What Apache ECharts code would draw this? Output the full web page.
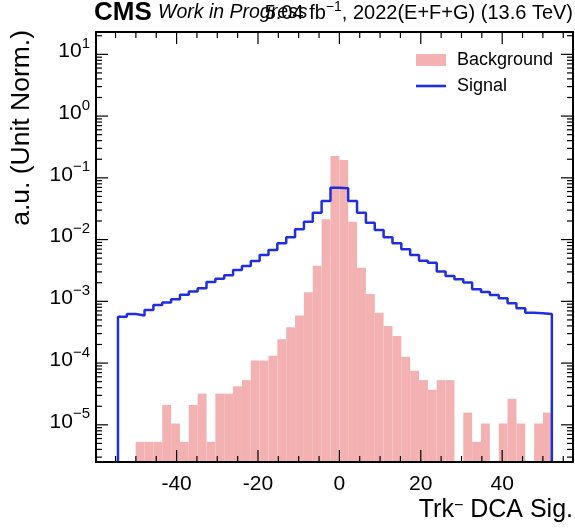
<!DOCTYPE html>
<html>
<head>
<meta charset="utf-8">
<script src="https://cdn.jsdelivr.net/npm/echarts@6/dist/echarts.min.js"></script>
<style>
  html, body { margin: 0; padding: 0; background: #fff; }
  #chart { width: 575px; height: 530px; }
</style>
</head>
<body>
<div id="chart"></div>
<script>
// binning of the Trk- DCA significance histograms
const nBins = 49;
const binLow = -54.4;
const binHigh = 52.2;

// unit-normalised bin contents
const bkgValues = [
  0, 0, 5.3e-6, 5.3e-6, 5.3e-6, 2.1e-5, 1.05e-5, 5.3e-6, 2.1e-5, 3.2e-5,
  5.3e-6, 3.2e-5, 3.2e-5, 4.2e-5, 5.3e-5, 1.1e-4, 1.1e-4, 1.31e-4, 2.44e-4, 3.81e-4,
  5.88e-4, 1.40e-3, 3.78e-3, 2.13e-2, 0.225, 0.194, 1.95e-2, 3.51e-3, 1.32e-3, 6.56e-4,
  4.0e-4, 2.75e-4, 1.27e-4, 7.5e-5, 5.3e-5, 3.7e-5, 5.3e-5, 5.3e-5, 0, 1.58e-5,
  5.3e-6, 1.05e-5, 0, 1.05e-5, 2.64e-5, 1.05e-5, 0, 1.05e-5, 1.58e-5
];
const sigValues = [
  5.65e-4, 6.25e-4, 5.88e-4, 7.26e-4, 8.75e-4, 9.53e-4, 1.08e-3, 1.28e-3, 1.44e-3, 1.63e-3,
  2.06e-3, 2.33e-3, 2.64e-3, 3.22e-3, 3.74e-3, 4.51e-3, 5.64e-3, 6.79e-3, 8.71e-3, 1.09e-2,
  1.47e-2, 1.95e-2, 2.72e-2, 4.22e-2, 6.92e-2, 6.76e-2, 4.22e-2, 2.72e-2, 1.87e-2, 1.43e-2,
  1.09e-2, 8.71e-3, 6.97e-3, 5.64e-3, 4.56e-3, 4.22e-3, 3.03e-3, 2.58e-3, 2.28e-3, 2.01e-3,
  1.57e-3, 1.42e-3, 1.27e-3, 1.12e-3, 9.31e-4, 7.73e-4, 6.56e-4, 6.41e-4, 6.25e-4
];

// axes
const xRange = [-59.8, 57.4];
const yRange = [2.5e-6, 23];
const xMajorTicks = [-40, -20, 0, 20, 40];
const xMinorTicks = [-55, -50, -45, -35, -30, -25, -15, -10, -5, 5, 10, 15, 25, 30, 35, 45, 50, 55];
const yDecades = [-5, -4, -3, -2, -1, 0, 1];

const bkgColor = '#f3b1b1';
const sigColor = '#1f2ee0';
const font = 'Liberation Sans, Helvetica, Arial, sans-serif';

const yMin = Math.log10(yRange[0]);
const yMax = Math.log10(yRange[1]);
const binW = (binHigh - binLow) / nBins;
const edges = [];
for (let i = 0; i <= nBins; i++) edges.push(binLow + i * binW);

// minor log ticks 2..9 inside every decade
const yMinorTicks = [];
for (let d = -6; d <= 1; d++) {
  for (let k = 2; k <= 9; k++) {
    const v = Math.log10(k) + d;
    if (v > yMin && v < yMax) yMinorTicks.push(v);
  }
}

const bkgData = [];
bkgValues.forEach(function (v, i) {
  if (v > 0) bkgData.push([edges[i], edges[i + 1], Math.log10(v)]);
});

// step outline: up from the floor, across every bin, back down
const sigLine = [[edges[0], yMin]];
sigValues.forEach(function (v, i) {
  sigLine.push([edges[i], Math.log10(v)]);
});
sigLine.push([edges[nBins], Math.log10(sigValues[nBins - 1])]);
sigLine.push([edges[nBins], yMin]);

// inward ticks on all four sides: [x, y, length, 0 = x tick / 1 = y tick]
const tickData = [];
xMajorTicks.forEach(function (v) { tickData.push([v, yMin, 12, 0]); });
xMinorTicks.forEach(function (v) { tickData.push([v, yMin, 6, 0]); });
yDecades.forEach(function (v) { tickData.push([xRange[0], v, 12, 1]); });
yMinorTicks.forEach(function (v) { tickData.push([xRange[0], v, 6, 1]); });

function mkX(pos, withLabel) {
  return { type: 'value', position: pos, min: xRange[0], max: xRange[1], z: 5,
    axisLine: { show: true, onZero: false, lineStyle: { color: '#000', width: 2 } },
    axisTick: { show: false },
    axisLabel: withLabel ? { show: true, customValues: xMajorTicks, margin: 12,
      fontSize: 21, fontFamily: font, color: '#000',
      formatter: function (v) { return String(v); } } : { show: false },
    splitLine: { show: false } };
}

function mkY(pos, withLabel) {
  return { type: 'value', position: pos, min: yMin, max: yMax, z: 5,
    axisLine: { show: true, onZero: false, lineStyle: { color: '#000', width: 2 } },
    axisTick: { show: false },
    axisLabel: withLabel ? { show: true, customValues: yDecades, margin: 6,
      fontSize: 21, lineHeight: 30, fontFamily: font, color: '#000',
      padding: [0, 0, 6, 0],
      formatter: function (v) {
        const e = Math.round(v);
        return '10{sup|' + (e < 0 ? '\u2212' + (-e) : e) + '}';
      },
      rich: { sup: { fontSize: 15, lineHeight: 15, verticalAlign: 'top' } } } : { show: false },
    splitLine: { show: false } };
}

const chart = echarts.init(document.getElementById('chart'));

chart.setOption({
  animation: false,
  backgroundColor: '#fff',
  grid: { left: 96, right: 2, top: 32, bottom: 68 },
  title: [
    { text: 'CMS', left: 94, top: 0, padding: 0,
      textStyle: { fontSize: 26, fontWeight: 'bold', fontFamily: font, color: '#000' } },
    { text: 'Work in Progress', left: 158, top: 3, padding: 0,
      textStyle: { fontSize: 19.5, fontStyle: 'italic', fontWeight: 'normal', fontFamily: font, color: '#000' } },
    { text: '5.04 fb{sup|\u22121}, 2022(E+F+G) (13.6 TeV)', right: 2, top: 0, padding: 0,
      textStyle: { fontSize: 20, lineHeight: 26, fontWeight: 'normal', fontFamily: font, color: '#000',
        rich: { sup: { fontSize: 14, lineHeight: 14, verticalAlign: 'top' } } } }
  ],
  legend: {
    left: 411, top: 45, orient: 'vertical', selectedMode: false,
    itemWidth: 30, itemHeight: 12, itemGap: 6,
    textStyle: { fontSize: 18, lineHeight: 20, fontFamily: font, color: '#000', padding: [0, 0, 0, 6] },
    data: [
      { name: 'Background', icon: 'rect' },
      { name: 'Signal', icon: 'path://M0,0H30V2.6H0Z' }
    ]
  },
  xAxis: [mkX('bottom', true), mkX('top', false)],
  yAxis: [mkY('left', true), mkY('right', false)],
  graphic: [
    { type: 'text', x: 22, y: 30, rotation: Math.PI / 2,
      style: { text: 'a.u. (Unit Norm.)', fontSize: 26.5, fontFamily: font, fill: '#000',
        align: 'right', verticalAlign: 'middle' } },
    { type: 'text', right: 2, top: 498,
      style: { text: 'Trk{sup|\u2212} DCA Sig.', fontSize: 25, fontFamily: font, fill: '#000',
        rich: { sup: { fontSize: 16, verticalAlign: 'top' } } } }
  ],
  series: [
    {
      name: 'Background', type: 'custom',
      itemStyle: { color: bkgColor },
      encode: { x: [0, 1], y: 2 },
      data: bkgData,
      renderItem: function (params, api) {
        const top = api.coord([api.value(0), api.value(2)]);
        const bot = api.coord([api.value(1), yMin]);
        return {
          type: 'rect',
          shape: { x: top[0], y: top[1], width: bot[0] - top[0], height: bot[1] - top[1] },
          style: { fill: bkgColor }
        };
      }
    },
    {
      name: 'Signal', type: 'line', step: 'end', showSymbol: false, symbol: 'none',
      color: sigColor,
      lineStyle: { color: sigColor, width: 2.5 },
      data: sigLine
    },
    {
      name: 'ticks', type: 'custom', silent: true, z: 6,
      encode: { x: 0, y: 1 },
      data: tickData,
      renderItem: function (params, api) {
        const cs = params.coordSys;
        const len = api.value(2);
        const p = api.coord([api.value(0), api.value(1)]);
        const st = { stroke: '#000', lineWidth: 1.2 };
        if (api.value(3) === 0) {
          return { type: 'group', children: [
            { type: 'line', shape: { x1: p[0], y1: cs.y + cs.height, x2: p[0], y2: cs.y + cs.height - len }, style: st },
            { type: 'line', shape: { x1: p[0], y1: cs.y, x2: p[0], y2: cs.y + len }, style: st }
          ] };
        }
        return { type: 'group', children: [
          { type: 'line', shape: { x1: cs.x, y1: p[1], x2: cs.x + len, y2: p[1] }, style: st },
          { type: 'line', shape: { x1: cs.x + cs.width, y1: p[1], x2: cs.x + cs.width - len, y2: p[1] }, style: st }
        ] };
      }
    }
  ]
});
</script>
</body>
</html>
